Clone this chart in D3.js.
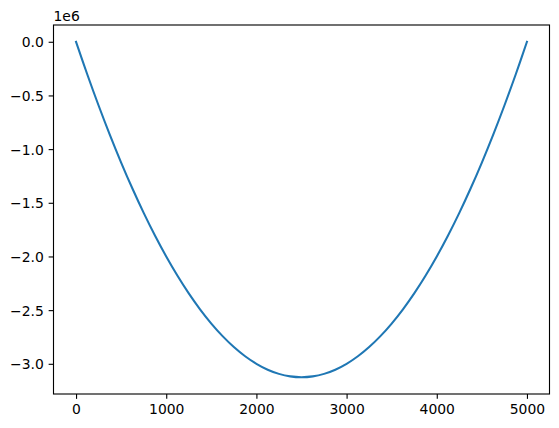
<!DOCTYPE html>
<html><head><meta charset="utf-8">
<script src="https://cdn.jsdelivr.net/npm/d3@7"></script>
<style>body{margin:0;background:#fff}text{font-family:"DejaVu Sans";}</style>
</head><body>
<svg id="c" width="559" height="428"></svg>
<script>
const xs = [0,125,250,375,500,625,750,875,1000,1125,1250,1375,1500,1625,1750,1875,2000,2125,2250,2375,2500,
            2625,2750,2875,3000,3125,3250,3375,3500,3625,3750,3875,4000,4125,4250,4375,4500,4625,4750,4875,5000];
const ys = [0,-304687,-593750,-867187,-1125000,-1367187,-1593750,-1804687,-2000000,-2179687,-2343750,-2492187,-2625000,-2742187,-2843750,-2929687,-3000000,-3054687,-3093750,-3117187,-3125000,
            -3117187,-3093750,-3054687,-3000000,-2929687,-2843750,-2742187,-2625000,-2492187,-2343750,-2179687,-2000000,-1804687,-1593750,-1367187,-1125000,-867187,-593750,-304687,0];
const xTicks = [0,1000,2000,3000,4000,5000];
const yTicks = [0,-0.5e6,-1e6,-1.5e6,-2e6,-2.5e6,-3e6];
const yTickLabels = ["0.0","−0.5","−1.0","−1.5","−2.0","−2.5","−3.0"];
const offsetLabel = "1e6";

const L=53.5,R=549.5,T=25,B=394;
const svg=d3.select("#c");
const x=d3.scaleLinear().domain([-250,5250]).range([L,R]);
const y=d3.scaleLinear().domain([-3.28125e6,0.15625e6]).range([B,T]);
const data=xs.map((d,i)=>[d,ys[i]]);
svg.append("path").datum(data)
  .attr("d",d3.line().x(d=>x(d[0])).y(d=>y(d[1])).curve(d3.curveCatmullRom.alpha(0.5)))
  .attr("fill","none").attr("stroke","#1f77b4").attr("stroke-width",2.08).attr("stroke-linecap","square");
const fs="13.9px";
const xa=svg.append("g").attr("transform",`translate(0,${B})`)
  .call(d3.axisBottom(x).tickValues(xTicks).tickFormat(d3.format("d")).tickSize(4.86).tickPadding(4.86));
const ya=svg.append("g").attr("transform",`translate(${L},0)`)
  .call(d3.axisLeft(y).tickValues(yTicks).tickFormat((d,i)=>yTickLabels[i]).tickSize(4.86).tickPadding(4.86));
[xa,ya].forEach(g=>{g.select(".domain").remove();g.selectAll("line").attr("stroke","#000").attr("stroke-width",1.11);
  g.selectAll("text").attr("fill","#000").style("font-size",fs).style("font-family","DejaVu Sans");});
xa.selectAll("text").attr("dy","0.74em");
ya.selectAll("text").attr("dy","0.36em");
svg.append("rect").attr("x",L).attr("y",T).attr("width",R-L).attr("height",B-T)
  .attr("fill","none").attr("stroke","#000").attr("stroke-width",1.11);
svg.append("text").attr("x",L).attr("y",T-4.5).text(offsetLabel).style("font-size",fs).attr("fill","#000");
</script></body></html>
